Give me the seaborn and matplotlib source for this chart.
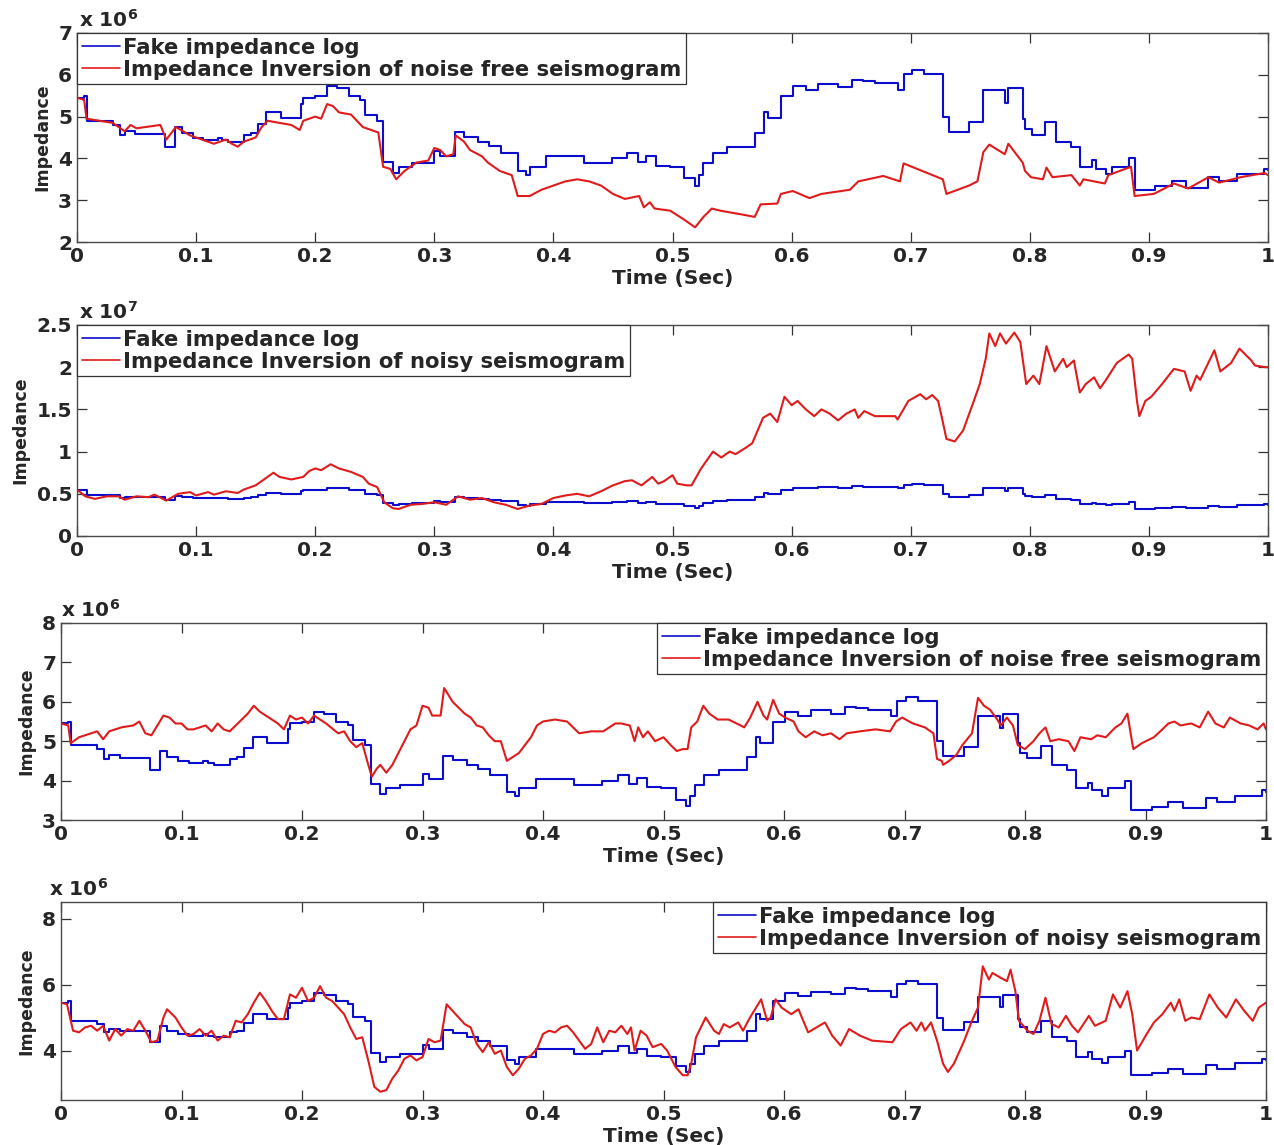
import matplotlib
matplotlib.use("Agg")
import matplotlib.pyplot as plt
import seaborn as sns
import numpy as np
import pandas as pd
from matplotlib.ticker import FuncFormatter

# ---------------------------------------------------------------------------
# Data (impedance in units of 1e6 unless noted)
# ---------------------------------------------------------------------------
# Fake impedance log (blocky well log)
log_time = [0, 0.006, 0.008, 0.025, 0.03, 0.036, 0.04, 0.049, 0.074, 0.082,
            0.088, 0.097, 0.106, 0.118, 0.122, 0.127, 0.14, 0.146, 0.152, 0.159,
            0.171, 0.188, 0.19, 0.2, 0.21, 0.218, 0.228, 0.238, 0.242, 0.252,
            0.257, 0.265, 0.27, 0.281, 0.3, 0.305, 0.317, 0.325, 0.337, 0.346,
            0.356, 0.37, 0.377, 0.38, 0.394, 0.426, 0.449, 0.462, 0.471, 0.478,
            0.486, 0.498, 0.51, 0.519, 0.522, 0.526, 0.534, 0.546, 0.569, 0.577,
            0.58, 0.591, 0.601, 0.612, 0.622, 0.639, 0.651, 0.66, 0.67, 0.689,
            0.694, 0.701, 0.711, 0.727, 0.732, 0.749, 0.761, 0.779, 0.782, 0.794,
            0.796, 0.802, 0.813, 0.822, 0.835, 0.842, 0.852, 0.856, 0.864, 0.869,
            0.883, 0.888, 0.905, 0.919, 0.931, 0.95, 0.959, 0.974, 0.997, 1.0]
log_imp = [5.45, 5.5, 4.9, 4.9, 4.8, 4.55, 4.65, 4.58, 4.27, 4.75,
           4.6, 4.5, 4.45, 4.5, 4.45, 4.4, 4.55, 4.6, 4.82, 5.1,
           4.96, 5.3, 5.45, 5.5, 5.73, 5.68, 5.5, 5.4, 5.03, 4.9,
           3.92, 3.66, 3.8, 3.9, 4.18, 4.05, 4.62, 4.52, 4.4, 4.3,
           4.13, 3.7, 3.6, 3.8, 4.05, 3.9, 4.0, 4.13, 3.92, 4.06,
           3.83, 3.8, 3.52, 3.35, 3.6, 3.88, 4.13, 4.28, 4.6, 5.1,
           4.96, 5.5, 5.73, 5.64, 5.78, 5.7, 5.88, 5.85, 5.8, 5.63,
           6.03, 6.12, 6.01, 5.0, 4.62, 4.86, 5.63, 5.33, 5.68, 4.95,
           4.7, 4.57, 4.88, 4.4, 4.28, 3.8, 3.95, 3.75, 3.62, 3.8,
           4.0, 3.25, 3.33, 3.45, 3.3, 3.55, 3.45, 3.62, 3.75, 3.72]

# Inversion of the noise-free seismogram, first method (x 1e6)
inv_clean_a_time = [0, 0.006, 0.008, 0.03, 0.035, 0.04, 0.045, 0.05, 0.07, 0.075,
                    0.083, 0.095, 0.1, 0.115, 0.125, 0.13, 0.135, 0.14, 0.15, 0.155,
                    0.16, 0.17, 0.18, 0.187, 0.19, 0.2, 0.205, 0.21, 0.215, 0.22,
                    0.23, 0.24, 0.253, 0.257, 0.263, 0.268, 0.275, 0.285, 0.295, 0.3,
                    0.305, 0.31, 0.316, 0.318, 0.325, 0.33, 0.34, 0.345, 0.355, 0.365,
                    0.37, 0.38, 0.39, 0.4, 0.41, 0.42, 0.43, 0.44, 0.45, 0.46,
                    0.472, 0.476, 0.481, 0.485, 0.498, 0.509, 0.519, 0.526, 0.533, 0.54,
                    0.56, 0.569, 0.574, 0.588, 0.591, 0.601, 0.615, 0.625, 0.649, 0.656,
                    0.677, 0.691, 0.694, 0.727, 0.73, 0.749, 0.756, 0.761, 0.766, 0.779,
                    0.782, 0.794, 0.796, 0.801, 0.811, 0.814, 0.819, 0.835, 0.842, 0.845,
                    0.863, 0.866, 0.885, 0.888, 0.904, 0.911, 0.921, 0.933, 0.95, 0.959,
                    0.977, 0.997, 1.0]
inv_clean_a_imp = [5.45, 5.4, 4.95, 4.85, 4.75, 4.65, 4.8, 4.72, 4.8, 4.45,
                   4.75, 4.55, 4.5, 4.35, 4.45, 4.35, 4.28, 4.4, 4.5, 4.75,
                   4.9, 4.85, 4.8, 4.68, 4.9, 5.0, 4.95, 5.3, 5.25, 5.1,
                   5.05, 4.75, 4.62, 3.8, 3.75, 3.5, 3.7, 3.9, 3.95, 4.25,
                   4.2, 4.05, 4.1, 4.55, 4.4, 4.2, 4.05, 3.9, 3.7, 3.6,
                   3.1, 3.1, 3.25, 3.35, 3.45, 3.5, 3.45, 3.35, 3.15, 3.03,
                   3.1, 2.83, 2.95, 2.8, 2.75, 2.55, 2.35, 2.6, 2.8, 2.75,
                   2.65, 2.6, 2.9, 2.92, 3.15, 3.22, 3.05, 3.15, 3.25, 3.45,
                   3.58, 3.45, 3.88, 3.5, 3.15, 3.35, 3.45, 4.15, 4.33, 4.1,
                   4.35, 3.9, 3.7, 3.55, 3.5, 3.78, 3.55, 3.6, 3.35, 3.5,
                   3.4, 3.6, 3.8, 3.1, 3.15, 3.25, 3.4, 3.28, 3.55, 3.42,
                   3.55, 3.65, 3.6]

# Inversion of the noisy seismogram, first method (x 1e7)
inv_noisy_a_time = [0, 0.007, 0.015, 0.025, 0.035, 0.04, 0.05, 0.06, 0.065, 0.075,
                    0.085, 0.095, 0.1, 0.11, 0.115, 0.125, 0.135, 0.14, 0.15, 0.16,
                    0.165, 0.17, 0.18, 0.19, 0.195, 0.2, 0.205, 0.213, 0.22, 0.23,
                    0.24, 0.245, 0.252, 0.258, 0.265, 0.27, 0.28, 0.29, 0.3, 0.31,
                    0.32, 0.33, 0.34, 0.35, 0.36, 0.37, 0.38, 0.39, 0.4, 0.41,
                    0.42, 0.43, 0.44, 0.45, 0.46, 0.466, 0.474, 0.483, 0.488, 0.493,
                    0.5, 0.504, 0.512, 0.516, 0.524, 0.534, 0.541, 0.548, 0.553, 0.562,
                    0.567, 0.576, 0.582, 0.588, 0.594, 0.6, 0.605, 0.612, 0.619, 0.625,
                    0.632, 0.639, 0.646, 0.653, 0.656, 0.661, 0.67, 0.687, 0.689, 0.698,
                    0.708, 0.713, 0.718, 0.723, 0.727, 0.73, 0.737, 0.744, 0.753, 0.758,
                    0.763, 0.766, 0.771, 0.775, 0.78, 0.787, 0.792, 0.796, 0.797, 0.803,
                    0.808, 0.814, 0.821, 0.828, 0.831, 0.837, 0.842, 0.847, 0.854, 0.859,
                    0.864, 0.873, 0.883, 0.886, 0.89, 0.892, 0.897, 0.902, 0.911, 0.921,
                    0.93, 0.935, 0.94, 0.943, 0.955, 0.96, 0.969, 0.976, 0.981, 0.986,
                    0.989, 0.998, 1.0]
inv_noisy_a_imp = [0.55, 0.47, 0.44, 0.47, 0.47, 0.43, 0.47, 0.46, 0.49, 0.42,
                   0.5, 0.52, 0.48, 0.52, 0.49, 0.53, 0.51, 0.55, 0.6, 0.7,
                   0.75, 0.7, 0.67, 0.7, 0.77, 0.8, 0.78, 0.85, 0.8, 0.76,
                   0.7, 0.62, 0.58, 0.4, 0.33, 0.32, 0.37, 0.38, 0.4, 0.37,
                   0.47, 0.43, 0.45, 0.4, 0.37, 0.32, 0.36, 0.38, 0.45, 0.48,
                   0.5, 0.47, 0.53, 0.6, 0.65, 0.66, 0.6, 0.7, 0.62, 0.65,
                   0.72, 0.62, 0.6, 0.6, 0.8, 1.0, 0.93, 1.0, 0.97, 1.05,
                   1.1, 1.4, 1.45, 1.35, 1.65, 1.55, 1.6, 1.5, 1.42, 1.5,
                   1.45, 1.37, 1.45, 1.5, 1.4, 1.48, 1.42, 1.42, 1.38, 1.6,
                   1.68, 1.62, 1.67, 1.6, 1.35, 1.15, 1.12, 1.25, 1.6, 1.8,
                   2.1, 2.4, 2.25, 2.4, 2.28, 2.41, 2.3, 1.9, 1.8, 1.9,
                   1.8, 2.25, 1.95, 2.1, 2.0, 2.08, 1.7, 1.8, 1.88, 1.75,
                   1.85, 2.05, 2.15, 2.1, 1.6, 1.42, 1.6, 1.65, 1.8, 1.98,
                   1.95, 1.72, 1.9, 1.85, 2.2, 1.95, 2.05, 2.22, 2.15, 2.08,
                   2.02, 2.0, 2.0]

# Inversion of the noise-free seismogram, second method (x 1e6)
inv_clean_b_time = [0, 0.006, 0.008, 0.015, 0.025, 0.03, 0.035, 0.04, 0.05, 0.06,
                    0.065, 0.07, 0.075, 0.08, 0.085, 0.09, 0.095, 0.1, 0.105, 0.11,
                    0.12, 0.125, 0.13, 0.135, 0.14, 0.145, 0.15, 0.155, 0.16, 0.165,
                    0.17, 0.18, 0.185, 0.19, 0.195, 0.2, 0.205, 0.21, 0.215, 0.22,
                    0.23, 0.235, 0.24, 0.245, 0.25, 0.255, 0.258, 0.262, 0.265, 0.27,
                    0.275, 0.28, 0.285, 0.29, 0.295, 0.3, 0.305, 0.308, 0.315, 0.318,
                    0.325, 0.33, 0.335, 0.34, 0.345, 0.35, 0.355, 0.36, 0.365, 0.37,
                    0.375, 0.38, 0.385, 0.39, 0.395, 0.4, 0.41, 0.42, 0.43, 0.44,
                    0.45, 0.46, 0.465, 0.472, 0.476, 0.479, 0.483, 0.487, 0.493, 0.5,
                    0.506, 0.511, 0.516, 0.52, 0.523, 0.528, 0.533, 0.538, 0.545, 0.554,
                    0.564, 0.567, 0.572, 0.578, 0.583, 0.586, 0.591, 0.596, 0.601, 0.608,
                    0.612, 0.618, 0.625, 0.632, 0.639, 0.646, 0.652, 0.663, 0.676, 0.688,
                    0.693, 0.698, 0.707, 0.717, 0.724, 0.727, 0.731, 0.732, 0.737, 0.743,
                    0.748, 0.756, 0.761, 0.766, 0.771, 0.777, 0.78, 0.785, 0.79, 0.794,
                    0.8, 0.807, 0.812, 0.817, 0.821, 0.828, 0.836, 0.841, 0.846, 0.855,
                    0.86, 0.867, 0.875, 0.88, 0.885, 0.889, 0.89, 0.897, 0.907, 0.914,
                    0.919, 0.924, 0.929, 0.938, 0.945, 0.952, 0.958, 0.965, 0.97, 0.979,
                    0.986, 0.993, 0.998, 1.0]
inv_clean_b_imp = [5.45, 5.4, 4.95, 5.1, 5.2, 5.25, 5.05, 5.25, 5.35, 5.4,
                   5.5, 5.2, 5.15, 5.4, 5.65, 5.6, 5.45, 5.45, 5.3, 5.3,
                   5.4, 5.25, 5.45, 5.3, 5.25, 5.4, 5.55, 5.7, 5.9, 5.75,
                   5.65, 5.45, 5.3, 5.65, 5.55, 5.6, 5.45, 5.65, 5.55, 5.45,
                   5.2, 5.25, 5.0, 4.85, 4.95, 4.4, 4.1, 4.3, 4.4, 4.2,
                   4.4, 4.7, 5.0, 5.3, 5.4, 5.9, 5.85, 5.65, 5.65, 6.35,
                   6.0, 5.85, 5.7, 5.6, 5.4, 5.35, 5.15, 5.0, 5.0, 4.5,
                   4.6, 4.7, 4.9, 5.1, 5.4, 5.5, 5.55, 5.5, 5.2, 5.25,
                   5.25, 5.45, 5.45, 5.4, 5.0, 5.35, 5.1, 5.25, 5.0, 5.1,
                   4.9, 4.75, 4.8, 4.8, 5.35, 5.5, 5.9, 5.7, 5.55, 5.55,
                   5.4, 5.35, 5.6, 6.0, 5.65, 5.55, 6.05, 5.7, 5.6, 5.5,
                   5.25, 5.1, 5.25, 5.15, 5.2, 5.05, 5.2, 5.25, 5.3, 5.25,
                   5.5, 5.6, 5.45, 5.35, 5.2, 4.55, 4.5, 4.4, 4.5, 4.65,
                   4.9, 5.2, 6.1, 5.9, 5.8, 5.55, 5.4, 5.6, 5.4, 4.9,
                   4.8, 5.0, 5.2, 5.35, 5.0, 5.05, 5.0, 4.75, 5.1, 5.05,
                   5.15, 5.1, 5.35, 5.45, 5.7, 4.95, 4.8, 4.95, 5.1, 5.3,
                   5.45, 5.5, 5.4, 5.45, 5.35, 5.75, 5.45, 5.35, 5.6, 5.45,
                   5.4, 5.3, 5.45, 5.3]

# Inversion of the noisy seismogram, second method (x 1e6)
inv_noisy_b_time = [0, 0.005, 0.01, 0.015, 0.02, 0.025, 0.03, 0.035, 0.04, 0.045,
                    0.05, 0.055, 0.06, 0.065, 0.07, 0.075, 0.08, 0.085, 0.088, 0.095,
                    0.1, 0.105, 0.11, 0.115, 0.12, 0.125, 0.13, 0.135, 0.14, 0.145,
                    0.15, 0.155, 0.16, 0.165, 0.17, 0.175, 0.18, 0.185, 0.19, 0.195,
                    0.2, 0.205, 0.21, 0.215, 0.22, 0.225, 0.23, 0.235, 0.24, 0.245,
                    0.25, 0.255, 0.26, 0.265, 0.27, 0.275, 0.28, 0.285, 0.29, 0.295,
                    0.3, 0.305, 0.31, 0.315, 0.32, 0.325, 0.33, 0.335, 0.34, 0.345,
                    0.35, 0.355, 0.36, 0.365, 0.37, 0.375, 0.38, 0.385, 0.39, 0.395,
                    0.4, 0.405, 0.41, 0.415, 0.42, 0.425, 0.43, 0.435, 0.44, 0.445,
                    0.45, 0.455, 0.46, 0.465, 0.47, 0.473, 0.476, 0.481, 0.486, 0.491,
                    0.498, 0.503, 0.51, 0.516, 0.52, 0.523, 0.527, 0.535, 0.542, 0.546,
                    0.55, 0.555, 0.562, 0.566, 0.571, 0.581, 0.586, 0.589, 0.593, 0.598,
                    0.606, 0.612, 0.62, 0.627, 0.634, 0.64, 0.647, 0.654, 0.663, 0.673,
                    0.69, 0.697, 0.705, 0.71, 0.714, 0.717, 0.722, 0.727, 0.732, 0.736,
                    0.741, 0.749, 0.756, 0.761, 0.765, 0.77, 0.773, 0.78, 0.785, 0.788,
                    0.792, 0.795, 0.802, 0.807, 0.812, 0.817, 0.822, 0.828, 0.834, 0.839,
                    0.844, 0.853, 0.858, 0.867, 0.873, 0.879, 0.885, 0.889, 0.893, 0.901,
                    0.907, 0.914, 0.921, 0.924, 0.928, 0.933, 0.938, 0.945, 0.953, 0.96,
                    0.967, 0.975, 0.982, 0.989, 0.994, 1.0]
inv_noisy_b_imp = [5.45, 5.4, 4.6, 4.55, 4.7, 4.75, 4.6, 4.75, 4.3, 4.65,
                   4.45, 4.65, 4.6, 4.9, 4.6, 4.25, 4.3, 5.0, 5.25, 5.0,
                   4.7, 4.45, 4.5, 4.65, 4.45, 4.6, 4.3, 4.45, 4.4, 4.9,
                   4.85, 5.1, 5.45, 5.75, 5.5, 5.2, 4.95, 4.95, 5.7, 5.6,
                   5.9, 5.5, 5.6, 5.95, 5.6, 5.5, 5.3, 5.1, 4.7, 4.35,
                   4.4, 3.7, 2.9, 2.75, 2.8, 3.15, 3.4, 3.75, 3.85, 3.7,
                   3.8, 4.35, 4.25, 4.3, 5.4, 5.2, 5.0, 4.8, 4.7, 4.2,
                   3.95, 4.25, 3.9, 4.0, 3.5, 3.25, 3.45, 3.75, 3.85, 4.05,
                   4.5, 4.6, 4.55, 4.7, 4.75, 4.55, 4.3, 4.05, 4.2, 4.7,
                   4.25, 4.6, 4.55, 4.75, 4.5, 4.7, 4.0, 4.6, 4.45, 4.1,
                   4.2, 4.0, 3.5, 3.25, 3.25, 3.6, 4.4, 5.0, 4.6, 4.5,
                   4.8, 4.7, 4.85, 4.6, 4.95, 5.55, 4.9, 5.0, 5.55, 5.3,
                   5.1, 5.25, 4.55, 4.7, 4.85, 4.45, 4.15, 4.65, 4.45, 4.3,
                   4.25, 4.65, 4.85, 4.6, 4.85, 4.6, 4.85, 4.3, 3.6, 3.35,
                   3.6, 4.25, 4.9, 5.3, 6.55, 6.15, 6.35, 6.2, 6.1, 6.45,
                   5.8, 4.9, 4.6, 4.5, 4.9, 5.6, 4.8, 4.7, 5.05, 4.75,
                   4.55, 5.05, 4.75, 4.9, 5.7, 5.3, 5.8, 5.1, 4.0, 4.5,
                   4.85, 5.1, 5.45, 5.2, 5.55, 4.9, 5.0, 4.95, 5.7, 5.3,
                   5.0, 5.55, 5.2, 4.9, 5.3, 5.45]

time_ticks = [0, 0.1, 0.2, 0.3, 0.4, 0.5, 0.6, 0.7, 0.8, 0.9, 1.0]

LOG_LABEL = "Fake impedance log"
CLEAN_LABEL = "Impedance Inversion of noise free seismogram"
NOISY_LABEL = "Impedance Inversion of noisy seismogram"

# ---------------------------------------------------------------------------
# Style
# ---------------------------------------------------------------------------
sns.set_theme(style="white")
FONT = "DejaVu Sans"
plt.rcParams.update({
    "font.family": [FONT],
    "font.weight": "bold",
    "axes.labelweight": "bold",
    "mathtext.fontset": "dejavusans",
    "mathtext.default": "bf",
    "axes.edgecolor": "#4a4a4a",
    "axes.linewidth": 1.0,
})

BLUE = "#0c0ccc"
RED = "#e01b1b"
FS = 14.5        # tick labels, x label, exponent
FS_LEG = 15.2    # legend entries
FS_Y = 12.5      # rotated y label
LW = 1.5

W, H = 1274, 1145
fig = plt.figure(figsize=(W / 100, H / 100), dpi=100)
fig.patch.set_facecolor("white")


def px_axes(left, top, right, bottom):
    """Add axes given pixel edges of the figure."""
    return fig.add_axes([left / W, 1 - bottom / H, (right - left) / W, (bottom - top) / H])


def to_frame(t, v, scale):
    assert len(t) == len(v)
    return pd.DataFrame({"time": np.asarray(t, float), "imp": np.asarray(v, float) * scale})


panels = [
    # (pixel box, y limits, y ticks, exponent, red series, red label, red scale, legend loc)
    ((77, 33, 1268, 242), (2, 7), [2, 3, 4, 5, 6, 7], 6,
     (inv_clean_a_time, inv_clean_a_imp), CLEAN_LABEL, 1e6, "upper left"),
    ((77, 325, 1268, 536), (0, 2.5), [0, 0.5, 1, 1.5, 2, 2.5], 7,
     (inv_noisy_a_time, inv_noisy_a_imp), NOISY_LABEL, 1e7, "upper left"),
    ((61, 623, 1266, 820), (3, 8), [3, 4, 5, 6, 7, 8], 6,
     (inv_clean_b_time, inv_clean_b_imp), CLEAN_LABEL, 1e6, "upper right"),
    ((61, 902, 1266, 1100), (2.5, 8.5), [4, 6, 8], 6,
     (inv_noisy_b_time, inv_noisy_b_imp), NOISY_LABEL, 1e6, "upper right"),
]
exp_x = [0.002, 0.002, 0.0, -0.01]

log_df = to_frame(log_time, log_imp, 1e6)

for i, (box, ylim, yticks, expo, red_series, red_label, red_scale, loc) in enumerate(panels):
    ax = px_axes(*box)
    unit = 10.0 ** expo
    red_df = to_frame(red_series[0], red_series[1], red_scale)

    sns.lineplot(data=log_df, x="time", y="imp", ax=ax, color=BLUE, lw=LW,
                 drawstyle="steps-post", estimator=None, sort=False, label=LOG_LABEL)
    sns.lineplot(data=red_df, x="time", y="imp", ax=ax, color=RED, lw=LW,
                 estimator=None, sort=False, label=red_label)

    ax.set_xlim(0, 1)
    ax.set_ylim(ylim[0] * unit, ylim[1] * unit)
    ax.set_xticks(time_ticks)
    ax.set_yticks([y * unit for y in yticks])
    ax.xaxis.set_major_formatter(FuncFormatter(lambda v, p: f"{v:g}"))
    ax.yaxis.set_major_formatter(FuncFormatter(lambda v, p, u=unit: f"{v / u:g}"))
    ax.tick_params(axis="both", which="both", direction="in", length=7, width=0.9,
                   color="#333333", top=True, right=True, bottom=True, left=True,
                   labelsize=FS, pad=3.5)
    for lab in ax.get_xticklabels() + ax.get_yticklabels():
        lab.set_fontweight("bold")

    ax.set_xlabel("Time (Sec)", fontsize=FS, fontweight="bold", labelpad=2)
    ax.set_ylabel("Impedance", fontsize=FS_Y, fontweight="bold", labelpad=5)

    ax.text(exp_x[i], 1.012, f"x 10$^{{{expo}}}$",
            transform=ax.transAxes, ha="left", va="bottom", fontsize=FS, fontweight="bold")

    leg = ax.legend(loc=loc, bbox_to_anchor=(0, 1) if loc == "upper left" else (1, 1),
                    borderaxespad=0, frameon=True, fancybox=False, framealpha=1,
                    edgecolor="#333333", handlelength=1.8, handletextpad=0.15,
                    labelspacing=0.1, borderpad=0.22,
                    prop={"family": FONT, "weight": "bold", "size": FS_LEG})
    leg.get_frame().set_linewidth(0.9)
    for ln in leg.get_lines():
        ln.set_linewidth(1.2)

fig.savefig("out.png", dpi=100, facecolor="white")
